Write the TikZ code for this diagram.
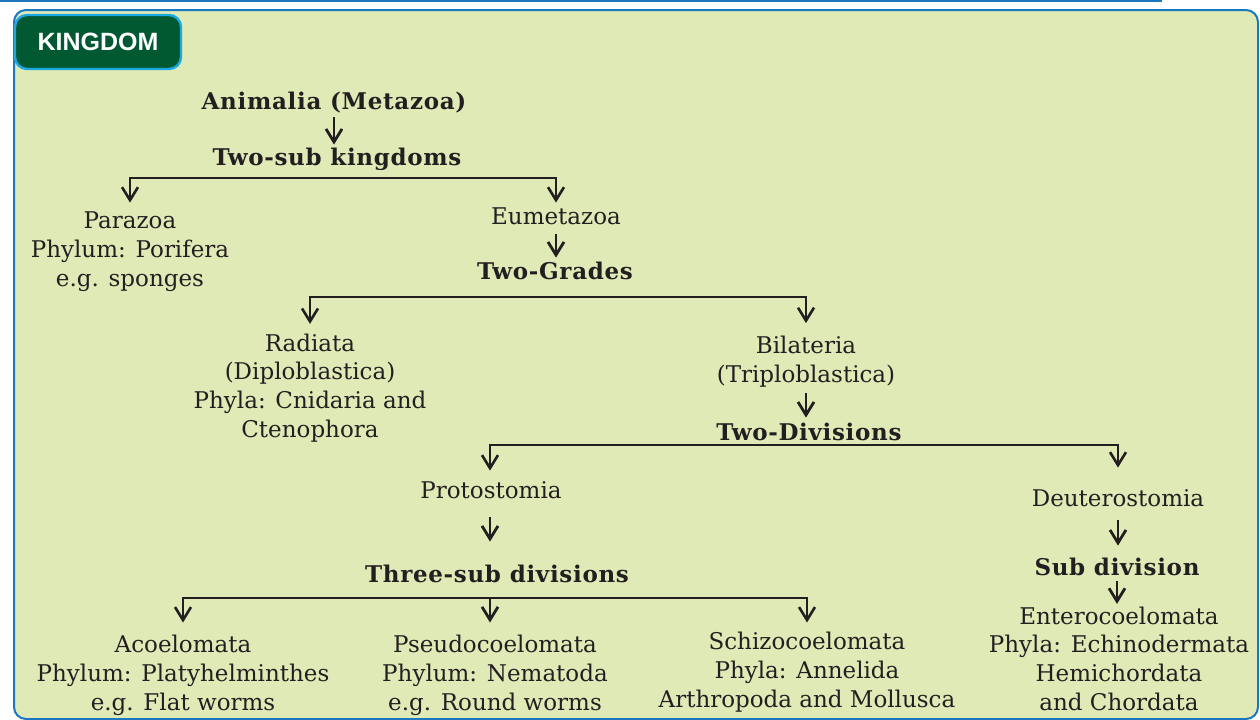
\documentclass[tikz,border=0pt]{standalone}
\usepackage{fontspec}
\setmainfont{DejaVu Serif}
\newfontfamily\gradefont{DejaVu Serif}[LetterSpace=3]
\newfontfamily\tabfont{Liberation Sans}
\usetikzlibrary{arrows.meta}
\definecolor{panel}{HTML}{E0EAB7}
\definecolor{rim}{HTML}{1B77BF}
\definecolor{tabgreen}{HTML}{005931}
\definecolor{tabrim}{HTML}{1CA9E1}
\definecolor{ink}{HTML}{231F20}

\begin{document}
\begin{tikzpicture}[x=0.5pt,y=-0.5pt,
        taxon/.style={align=center, inner sep=0pt, anchor=base, text=ink, font=\fontsize{11.5}{14.3}\selectfont},
        single/.style={taxon, text height=9pt, text depth=3pt},
        grade/.style={single, font=\gradefont\bfseries\fontsize{11.5}{14.3}\selectfont},
        tab/.style={draw=tabrim, fill=tabgreen, line width=1.2pt, rounded corners=6pt, minimum width=83pt, minimum height=27pt, text=white, font=\tabfont\bfseries\fontsize{12.5}{15}\selectfont},
        down/.style={-{Straight Barb[length=6.5pt,width=8pt]}, draw=ink, line width=1.4pt},
        fork/.style={{Straight Barb[length=6.5pt,width=8pt]}-{Straight Barb[length=6.5pt,width=8pt]}, draw=ink, line width=1.3pt}]
        \useasboundingbox (0,0) rectangle (1260,719);
        \draw[rim, line width=1.2pt] (0,1) -- (1162,1);
        \draw[rim, fill=panel, line width=1pt, rounded corners=6pt] (14,10) rectangle (1258,719);
        \node[tab] (kingdom) at (98,42) {KINGDOM};

        \node[grade] (animalia) at (334,109) {Animalia (Metazoa)};
        \node[grade] (twosub) at (337,165) {Two-sub kingdoms};
        \node[taxon] (parazoa) at (130,286) {Parazoa\\Phylum: Porifera\\e.g. sponges};
        \node[single] (eumetazoa) at (556,224) {Eumetazoa};
        \node[grade] (twogrades) at (555,279) {Two-Grades};
        \node[taxon] (radiata) at (310,437) {Radiata\\(Diploblastica)\\Phyla: Cnidaria and\\Ctenophora};
        \node[taxon] (bilateria) at (806,382) {Bilateria\\(Triploblastica)};
        \node[grade] (twodiv) at (809,440) {Two-Divisions};
        \node[single] (proto) at (491,498) {Protostomia};
        \node[single] (deutero) at (1118,506) {Deuterostomia};
        \node[grade] (threesub) at (497,582) {Three-sub divisions};
        \node[grade] (subdiv) at (1117,575) {Sub division};
        \node[taxon] (acoel) at (183,710) {Acoelomata\\Phylum: Platyhelminthes\\e.g. Flat worms};
        \node[taxon] (pseudo) at (495,710) {Pseudocoelomata\\Phylum: Nematoda\\e.g. Round worms};
        \node[taxon] (schizo) at (807,707) {Schizocoelomata\\Phyla: Annelida\\Arthropoda and Mollusca};
        \node[taxon] (entero) at (1119,710) {Enterocoelomata\\Phyla: Echinodermata\\Hemichordata\\and Chordata};

        \coordinate (k1) at (130,178);
        \coordinate (k2) at (556,178);
        \coordinate (g1) at (310,297);
        \coordinate (g2) at (806,297);
        \coordinate (d1) at (490,445);
        \coordinate (d2) at (1118,445);
        \coordinate (s1) at (183,598);
        \coordinate (s2) at (490,598);
        \coordinate (s3) at (807,598);

        \draw[down, shorten <=1pt, shorten >=1pt] (animalia.south) -- (animalia.south |- twosub.north);
        \draw[fork, shorten <=4.5pt, shorten >=1.5pt] (parazoa.north) -- (k1) -- (k2) -- (eumetazoa.north);
        \draw[down, shorten <=2pt, shorten >=1.5pt] (eumetazoa.south) -- (eumetazoa.south |- twogrades.north);
        \draw[fork, shorten <=4.7pt, shorten >=6.2pt] (radiata.north) -- (g1) -- (g2) -- (bilateria.north);
        \draw[down, shorten <=2.7pt, shorten >=2pt] (bilateria.south) -- (bilateria.south |- twodiv.north);
        \draw[fork, shorten <=4.5pt, shorten >=10pt] (d1 |- proto.north) -- (d1) -- (d2) -- (deutero.north);
        \draw[down, shorten <=6.5pt, shorten >=11pt] (d1 |- proto.south) -- (d1 |- threesub.north);
        \draw[down, shorten <=4pt, shorten >=5.5pt] (deutero.south) -- (deutero.south |- subdiv.north);
        \draw[down, shorten <=0pt, shorten >=1.2pt] (subdiv.south) -- (subdiv.south |- entero.north);
        \draw[fork, shorten <=6.2pt, shorten >=4.7pt] (acoel.north) -- (s1) -- (s3) -- (schizo.north);
        \draw[down, shorten >=6.2pt] (s2) -- (s2 |- pseudo.north);
\end{tikzpicture}
\end{document}
